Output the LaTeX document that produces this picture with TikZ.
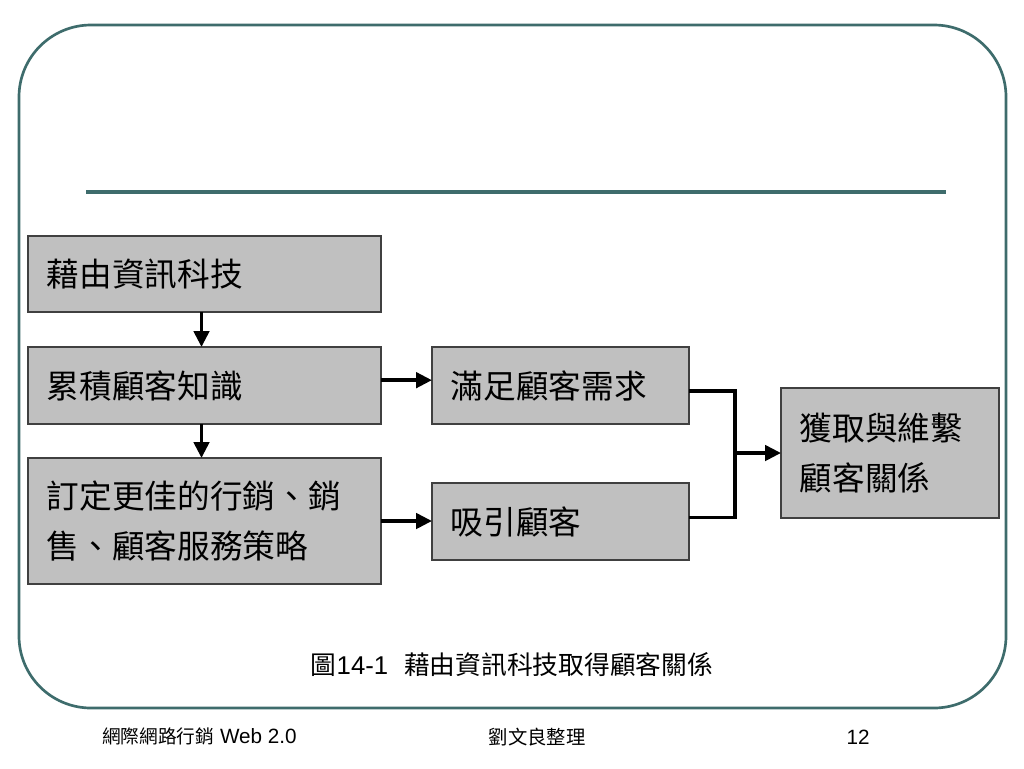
\documentclass[tikz,border=0pt]{standalone}
\usepackage{fontspec}
\setmainfont{Liberation Sans}
\newfontfamily\cjk{Noto Sans CJK TC}
\usetikzlibrary{arrows.meta}
\definecolor{frameteal}{RGB}{62,108,108}
\definecolor{boxgray}{RGB}{192,192,192}
\definecolor{boxline}{RGB}{64,64,64}
\tikzset{x=0.75pt, y=-0.75pt,
    box/.style={draw=boxline, fill=boxgray, line width=0.9pt, anchor=north west,
        inner xsep=14pt, inner ysep=0pt, outer sep=0pt, align=left,
        font=\cjk\fontsize{24.5}{37}\selectfont},
    arr/.style={line width=2.8pt, -{Triangle[length=12pt,width=11.5pt]}},
    link/.style={line width=2.8pt},
    }

\begin{document}
\begin{tikzpicture}
	\useasboundingbox (0,0) rectangle (1024,768);
	\draw[frameteal, line width=2pt, rounded corners=54pt] (19,25) rectangle (1006,708);
	\draw[frameteal, line width=3pt] (86,192) -- (946,192);
	% left column
	\node[box, text width=236.75pt, minimum height=57pt] (tech) at (28,236) {藉由資訊科技};
	\node[box, text width=236.75pt, minimum height=57.75pt] (know) at (28,347) {累積顧客知識};
	\node[box, text width=236.75pt, minimum height=94.5pt] (plan) at (28,458) {訂定更佳的行銷、銷\\售、顧客服務策略};
	% middle and right
	\node[box, text width=164.75pt, minimum height=57.75pt] (need) at (432,347) {滿足顧客需求};
	\node[box, text width=164.75pt, minimum height=57.75pt] (draw) at (432,483) {吸引顧客};
	\node[box, text width=135.5pt, minimum height=97.5pt] (rel) at (781,388) {獲取與維繫\\顧客關係};
	\coordinate (join) at (735,453);
	% connectors
	\draw[arr] ([xshift=-2.25pt]tech.south) -- ([xshift=-2.25pt]tech.south |- know.north);
	\draw[arr] ([xshift=-2.25pt]know.south) -- ([xshift=-2.25pt]know.south |- plan.north);
	\draw[arr] ([yshift=4pt]know.east) -- ([yshift=4pt]know.east -| need.west);
	\draw[arr] (plan.east) -- (plan.east -| draw.west);
	\draw[link] ([yshift=-4pt]need.east) -| (join) |- ([yshift=3pt]draw.east);
	\draw[arr] (join) -- (rel.west);
	% caption and footer
	\node[font=\fontsize{19.3}{23}\selectfont] (cap) at (512,665) {{\cjk 圖}14-1\hspace{12pt}{\cjk 藉由資訊科技取得顧客關係}};
	\node[anchor=west, inner sep=0pt, font=\fontsize{15.5}{18}\selectfont] (course) at (102,736) {{\cjk\fontsize{14}{17}\selectfont 網際網路行銷} Web 2.0};
	\node[inner sep=0pt, font=\cjk\fontsize{14.5}{17}\selectfont] (editor) at (537,737) {劉文良整理};
	\node[inner sep=0pt, font=\fontsize{15.5}{18}\selectfont] (page) at (858,737) {12};
\end{tikzpicture}
\end{document}
